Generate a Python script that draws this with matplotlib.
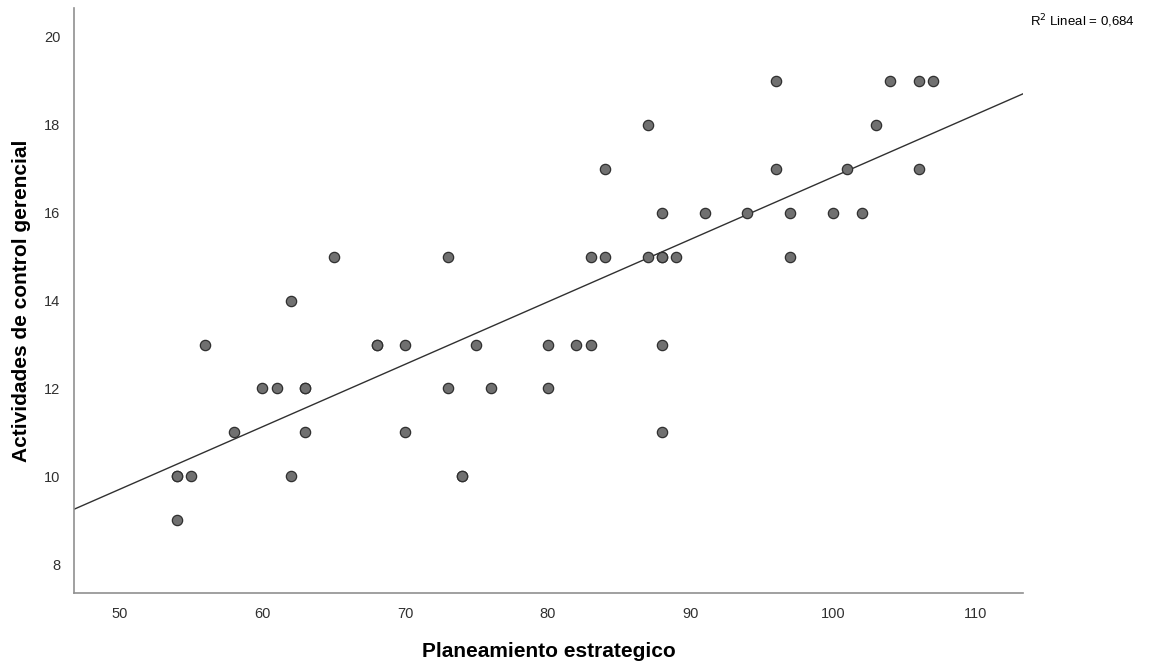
import numpy as np
import matplotlib.pyplot as plt

plt.rcParams['font.family'] = ['Liberation Sans', 'DejaVu Sans']

# Planeamiento estrategico (x) vs Actividades de control gerencial (y)
planeamiento = [54, 54, 54, 55, 56, 58, 60, 61, 62, 62, 63, 63, 63, 65,
                68, 68, 70, 70, 73, 73, 74, 74, 75, 76, 80, 80, 82, 83,
                83, 84, 84, 87, 87, 88, 88, 88, 88, 88, 89, 91, 94, 96,
                96, 97, 97, 100, 101, 102, 103, 104, 106, 106, 107]
actividades = [10, 10, 9, 10, 13, 11, 12, 12, 14, 10, 12, 12, 11, 15,
               13, 13, 13, 11, 15, 12, 10, 10, 13, 12, 13, 12, 13, 15,
               13, 17, 15, 18, 15, 16, 15, 15, 13, 11, 15, 16, 16, 19,
               17, 16, 15, 16, 17, 16, 18, 19, 19, 17, 19]

x = np.array(planeamiento, dtype=float)
y = np.array(actividades, dtype=float)
slope, intercept = np.polyfit(x, y, 1)

fig = plt.figure(figsize=(11.57, 6.65), dpi=100)
ax = fig.add_axes([0.064, 0.108, 0.82, 0.88])

ax.scatter(x, y, s=55, facecolor='#707070', edgecolor='#303030',
           linewidth=0.9, zorder=3)

xmin, xmax = 46.8, 113.3
xs = np.array([xmin, xmax])
ax.plot(xs, intercept + slope * xs, color='#303030', linewidth=1.0, zorder=2)

ax.set_xlim(xmin, xmax)
ax.set_ylim(7.34, 20.66)
ax.set_xticks([50, 60, 70, 80, 90, 100, 110])
ax.set_yticks([8, 10, 12, 14, 16, 18, 20])
ax.tick_params(length=0, labelsize=10.5, colors='#303030', pad=10)

for side in ['top', 'right']:
    ax.spines[side].set_visible(False)
for side in ['left', 'bottom']:
    ax.spines[side].set_color('#909090')
    ax.spines[side].set_linewidth(1.2)

ax.set_xlabel('Planeamiento estrategico', fontsize=15, fontweight='bold',
              labelpad=15)
ax.set_ylabel('Actividades de control gerencial', fontsize=15,
              fontweight='bold', labelpad=9)

fig.text(0.981, 0.968, r'R$^2$ Lineal = 0,684', ha='right', va='center',
         fontsize=9.5)

fig.savefig('out.png', dpi=100)
